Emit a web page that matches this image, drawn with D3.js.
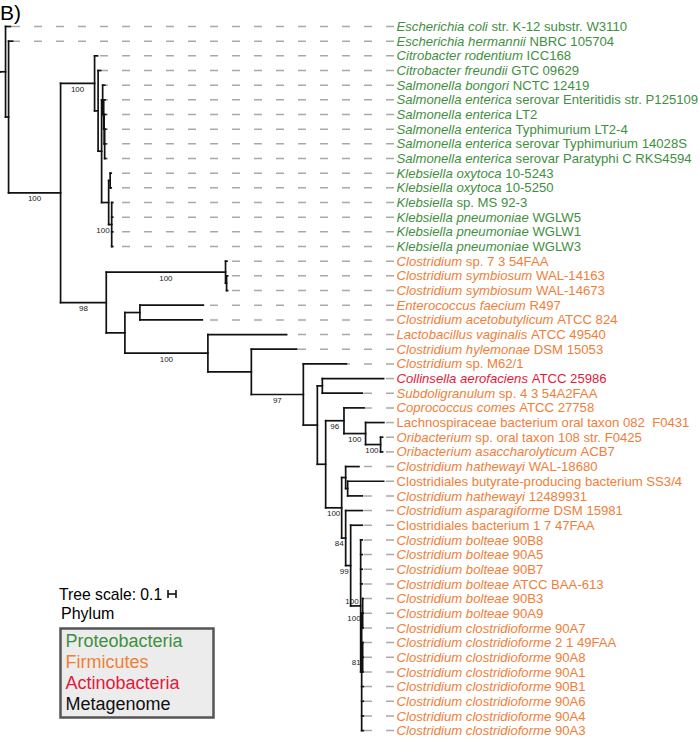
<!DOCTYPE html>
<html><head><meta charset="utf-8">
<script src="https://cdn.jsdelivr.net/npm/d3@7"></script>
<style>body{margin:0;background:#fff}</style>
</head><body>
<svg id="chart" width="700" height="739"></svg>
<script>
// ---------------- DATA ----------------
const title = "B)";
const leafItalic = [
 "Escherichia coli","Escherichia hermannii","Citrobacter rodentium","Citrobacter freundii",
 "Salmonella bongori","Salmonella enterica","Salmonella enterica","Salmonella enterica",
 "Salmonella enterica","Salmonella enterica","Klebsiella oxytoca","Klebsiella oxytoca",
 "Klebsiella","Klebsiella pneumoniae","Klebsiella pneumoniae","Klebsiella pneumoniae",
 "Clostridium","Clostridium symbiosum","Clostridium symbiosum","Enterococcus faecium",
 "Clostridium acetobutylicum","Lactobacillus vaginalis","Clostridium hylemonae","Clostridium",
 "Collinsella aerofaciens","Subdoligranulum","Coprococcus comes","",
 "Oribacterium","Oribacterium asaccharolyticum","Clostridium hathewayi","",
 "Clostridium hathewayi","Clostridium asparagiforme","","Clostridium bolteae",
 "Clostridium bolteae","Clostridium bolteae","Clostridium bolteae","Clostridium bolteae",
 "Clostridium bolteae","Clostridium clostridioforme","Clostridium clostridioforme","Clostridium clostridioforme",
 "Clostridium clostridioforme","Clostridium clostridioforme","Clostridium clostridioforme","Clostridium clostridioforme",
 "Clostridium clostridioforme"
];
const leafRest = [
 "str. K-12 substr. W3110","NBRC 105704","ICC168","GTC 09629",
 "NCTC 12419","serovar Enteritidis str. P125109","LT2","Typhimurium LT2-4",
 "serovar Typhimurium 14028S","serovar Paratyphi C RKS4594","10-5243","10-5250",
 "sp. MS 92-3","WGLW5","WGLW1","WGLW3",
 "sp. 7 3 54FAA","WAL-14163","WAL-14673","R497",
 "ATCC 824","ATCC 49540","DSM 15053","sp. M62/1",
 "ATCC 25986","sp. 4 3 54A2FAA","ATCC 27758","Lachnospiraceae bacterium oral taxon 082\u00a0 F0431",
 "sp. oral taxon 108 str. F0425","ACB7","WAL-18680","Clostridiales butyrate-producing bacterium SS3/4",
 "12489931","DSM 15981","Clostridiales bacterium 1 7 47FAA","90B8",
 "90A5","90B7","ATCC BAA-613","90B3",
 "90A9","90A7","2 1 49FAA","90A8",
 "90A1","90B1","90A6","90A4",
 "90A3"
];
// phylum index per leaf: 0 Proteobacteria, 1 Firmicutes, 2 Actinobacteria
const leafPhylum = [0,0,0,0,0,0,0,0,0,0,0,0,0,0,0,0,
 1,1,1,1,1,1,1,1,2,1,1,1,1,1,1,1,1,1,1,1,1,1,1,1,1,1,1,1,1,1,1,1,1];
const phyla = ["Proteobacteria","Firmicutes","Actinobacteria","Metagenome"];
const phylumColors = ["#3f8f3f","#f07e38","#e3193b","#111111"];
// tree topology with branch lengths (substitutions/site) and bootstrap support
const treeNewick =
 "(((L0:0.063,(L1:0.05,((" +
   "L2:0.038,(L3:0.031,((L4:0.025,(L5:0.019,(L6:0.019,(L7:0.013,L8:0.013,L9:0.013):0.006):0.006):0.013):0.013," +
   "((L10:0.013,L11:0.013):0.019,(L12:0.013,L13:0.013,L14:0.013,L15:0.013)100:0.038):0.088):0.044):0.044)100:0.425," +
   "((L16:0.019,(L17:0.013,L18:0.013):0.013)100:1.491," +
   "((L19:0.793,L20:0.78):0.1875,(L21:0.984,(L22:0.566,(L23:0.5375,((L24:0.766,L25:0.5):0.0625," +
   "((L26:0.25,(L27:0.229,(L28:0.025,L29:0.025)100:0.1875)100:0.27)96:0.229," +
   "((L30:0.166,(L31:0.45,L32:0.184):0.025):0.05,(L33:0.209,(L34:0.146," +
   "(L35:0.02,L36:0.02,L37:0.02,L38:0.02,((L39:0.005,L40:0.005,L41:0.005)100:0.0125,(L42:0.005,L43:0.005,L44:0.005)81:0.0125," +
   "L45:0.02,L46:0.02,L47:0.02,L48:0.02):0.0125)100:0.125" +
   ")99:0.0625)84:0.05)100:0.2):0.104):0.175)97:0.65):0.543)100:1.0375):0.233)98:0.571" +
 ")100:0.65):0.038):0.063));";
const scaleBarValue = 0.1;
const scaleLabel = "Tree scale: 0.1";
const legendTitle = "Phylum";

// ---------------- PARSE ----------------
function parseNewick(s){
  let i=0;
  function node(){
    const n={children:[]};
    if(s[i]==="("){
      i++;
      n.children.push(node());
      while(s[i]===","){i++; n.children.push(node());}
      i++;
    }
    let name="";
    while(i<s.length && !":,);".includes(s[i])) name+=s[i++];
    n.name=name;
    if(s[i]===":"){i++; let l=""; while(i<s.length && !",);".includes(s[i])) l+=s[i++]; n.length=+l;} else n.length=0;
    if(!n.children.length) delete n.children;
    return n;
  }
  return node();
}
const root = d3.hierarchy(parseNewick(treeNewick));

// ---------------- LAYOUT ----------------
const svg = d3.select("#chart");
const pxPerUnit = 80;
const x = d3.scaleLinear().domain([0,1]).range([0.5, 0.5+pxPerUnit]);
const leaves = root.leaves();
const y = d3.scaleLinear().domain([0, leaves.length-1]).range([26.5, 730.6]);
root.each(d=>{ d.dist = (d.parent?d.parent.dist:0) + (d.data.length||0); });
root.eachBefore(d=>{ d.px = x(d.dist); });
leaves.forEach(d=>{ d.idx=+d.data.name.slice(1); d.py = y(d.idx); });
root.eachAfter(d=>{ if(d.children){ d.py = (d.children[0].py + d.children[d.children.length-1].py)/2; } });

const FONT = "'Liberation Sans', Arial, Helvetica, sans-serif";
const labelX = 396.5;
const leaderEnd = 394;

// dashed leader lines (drawn from the label back toward the leaf tip)
svg.append("g").selectAll("line").data(leaves).join("line")
  .attr("x1", leaderEnd).attr("x2", d=>d.px)
  .attr("y1", d=>d.py).attr("y2", d=>d.py)
  .attr("stroke", "#a9a9a9").attr("stroke-width", 1.5)
  .attr("stroke-dasharray", "8,14");

// branches
const g = svg.append("g").attr("stroke","#111").attr("stroke-width",1.7).attr("stroke-linecap","square").attr("fill","none");
root.descendants().forEach(d=>{
  if(d.parent){
    g.append("line").attr("x1", d.parent.px).attr("x2", d.px).attr("y1", d.py).attr("y2", d.py);
  }
  if(d.children && d.children.length>1){
    g.append("line").attr("x1", d.px).attr("x2", d.px)
      .attr("y1", d.children[0].py).attr("y2", d.children[d.children.length-1].py);
  }
});

// bootstrap support values
const boots = root.descendants().filter(d=>d.children && d.data.name!=="");
const isShort = d => (d.px - d.parent.px) < 16;
svg.append("g").selectAll("text").data(boots).join("text")
  .attr("font-family", FONT).attr("font-size", 8).attr("fill","#222")
  .each(function(d){
    const t = d3.select(this).text(d.data.name);
    if(!isShort(d)){
      t.attr("x", (d.px + d.parent.px)/2).attr("y", d.py + 8.5).attr("text-anchor","middle");
    } else {
      // put the label above the node when a labelled descendant sits just below it
      const crowded = boots.some(o => o!==d && isShort(o) && d.descendants().includes(o) && Math.abs(o.py - d.py) < 12);
      t.attr("x", d.px - 2).attr("y", crowded ? d.py - 2 : d.py + 8).attr("text-anchor","end");
    }
  });

// leaf labels
const lab = svg.append("g").selectAll("text").data(leaves).join("text")
  .attr("x", labelX).attr("y", d=>d.py + 4.6)
  .attr("font-family", FONT).attr("font-size", 13.15)
  .attr("fill", d=>phylumColors[leafPhylum[d.idx]]);
lab.each(function(d){
  const t = d3.select(this);
  const it = leafItalic[d.idx], rest = leafRest[d.idx];
  if(it){ t.append("tspan").attr("font-style","italic").text(it); t.append("tspan").text("\u00a0"+rest); }
  else t.append("tspan").text(rest);
});

// title
svg.append("text").attr("x", 0).attr("y", 20).attr("font-family", FONT).attr("font-size", 21).text(title);

// tree scale
svg.append("text").attr("x", 59).attr("y", 600).attr("font-family", FONT).attr("font-size", 15.7).text(scaleLabel);
const sbX0 = 168, sbY = 594, sbW = scaleBarValue*pxPerUnit;
const sb = svg.append("g").attr("stroke","#111").attr("stroke-width",1.6);
sb.append("line").attr("x1",sbX0).attr("x2",sbX0+sbW).attr("y1",sbY).attr("y2",sbY);
sb.append("line").attr("x1",sbX0).attr("x2",sbX0).attr("y1",sbY-4).attr("y2",sbY+4);
sb.append("line").attr("x1",sbX0+sbW).attr("x2",sbX0+sbW).attr("y1",sbY-4).attr("y2",sbY+4);

// legend
svg.append("text").attr("x", 61).attr("y", 619).attr("font-family", FONT).attr("font-size", 16).text(legendTitle);
svg.append("rect").attr("x", 60.5).attr("y", 628.5).attr("width", 153).attr("height", 89)
  .attr("fill","#ececec").attr("stroke","#555").attr("stroke-width",2.5);
svg.append("g").selectAll("text").data(phyla).join("text")
  .attr("x", 65.5).attr("y", (d,i)=>646.5 + i*21.2)
  .attr("font-family", FONT).attr("font-size", 18)
  .attr("fill", (d,i)=>phylumColors[i]).text(d=>d);
</script>
</body></html>
